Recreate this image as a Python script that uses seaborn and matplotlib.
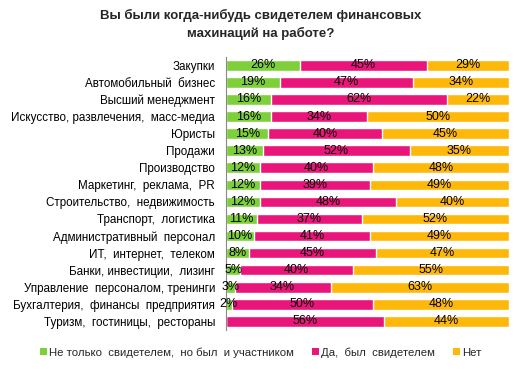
import numpy as np
import pandas as pd
import matplotlib
matplotlib.use("Agg")
import matplotlib.pyplot as plt
import seaborn as sns
from matplotlib.patches import Patch

categories = [
    "Закупки", "Автомобильный  бизнес", "Высший менеджмент",
    "Искусство, развлечения,  масс-медиа", "Юристы", "Продажи",
    "Производство", "Маркетинг,  реклама,  PR", "Строительство,  недвижимость",
    "Транспорт,  логистика", "Административный  персонал", "ИТ,  интернет,  телеком",
    "Банки, инвестиции,  лизинг", "Управление  персоналом, тренинги",
    "Бухгалтерия,  финансы  предприятия", "Туризм,  гостиницы,  рестораны",
]
participant = [26, 19, 16, 16, 15, 13, 12, 12, 12, 11, 10, 8, 5, 3, 2, 0]
witness = [45, 47, 62, 34, 40, 52, 40, 39, 48, 37, 41, 45, 40, 34, 50, 56]
no = [29, 34, 22, 50, 45, 35, 48, 49, 40, 52, 49, 47, 55, 63, 48, 44]

series = ["Не только  свидетелем,  но был  и участником", "Да,  был  свидетелем", "Нет"]
colors = ["#7ED03B", "#EA157A", "#FEB80A"]

df = pd.DataFrame({"cat": categories, "p": participant, "w": witness, "n": no})
df["c1"] = df["p"]
df["c2"] = df["p"] + df["w"]
df["c3"] = df["p"] + df["w"] + df["n"]

sns.set_theme(style="white")
plt.rcParams["font.family"] = ["Liberation Sans", "DejaVu Sans"]

fig = plt.figure(figsize=(5.22, 3.69), dpi=100)
ax = fig.add_axes([0.433, 0.106, 0.542, 0.740])

# stacked bars: draw cumulative totals from the back
for col, color in zip(["c3", "c2", "c1"], colors[::-1]):
    sns.barplot(data=df, x=col, y="cat", color=color, width=0.62,
                saturation=1, ax=ax, orient="h")

for i, row in df.iterrows():
    starts = [0, row["p"], row["p"] + row["w"]]
    for s, v in zip(starts, [row["p"], row["w"], row["n"]]):
        if v > 0:
            ax.text(s + v / 2, i, f"{v}%", ha="center", va="center",
                    fontsize=9, color="black")

ax.set_xlim(0, 100)
ax.set_ylim(len(categories) - 0.5, -0.5)
ax.set_xlabel("")
ax.set_ylabel("")
ax.set_xticks([])
ax.tick_params(axis="y", length=0, labelsize=8.4, pad=8, labelcolor="black")
ax.set_yticks(np.arange(-0.5, len(categories)), minor=True)
ax.tick_params(axis="y", which="minor", length=3, color="#888888", direction="out")
for s in ["top", "right", "bottom"]:
    ax.spines[s].set_visible(False)
ax.spines["left"].set_color("#888888")
ax.spines["left"].set_linewidth(0.8)

fig.text(0.5, 0.975, "Вы были когда-нибудь свидетелем финансовых\nмахинаций на работе?",
         ha="center", va="top", fontsize=9.5, fontweight="bold", linespacing=1.45)

handles = [Patch(facecolor=c, edgecolor="none") for c in colors]
fig.legend(handles, series, loc="center", bbox_to_anchor=(0.5, 0.045), ncol=3,
           frameon=False, fontsize=8.2, handlelength=0.6, handleheight=0.6,
           handletextpad=0.2, columnspacing=1.6)

fig.savefig("out.png", dpi=100)
